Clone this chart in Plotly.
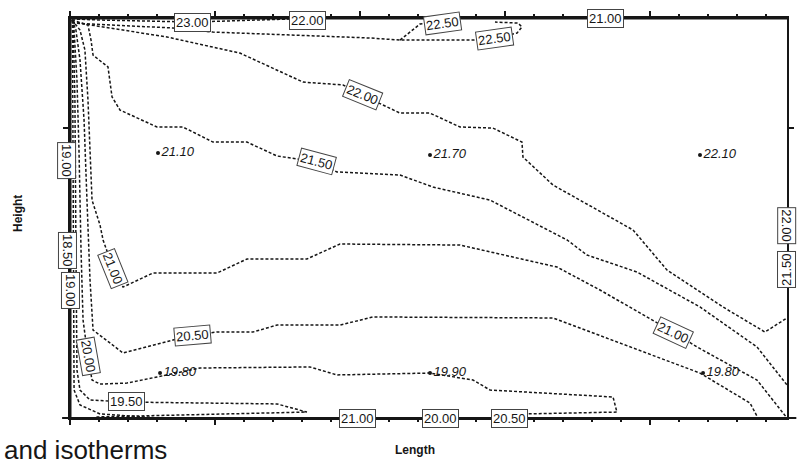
import plotly.graph_objects as go

# ---------------- data (length / height units) ----------------
c2300_x = [0.014, 0.207, 0.848, 1.517]
c2300_y = [2.752, 2.745, 2.731, 2.752]

c2250a_x = [0.014, 0.414, 0.710, 0.986, 1.586, 2.069, 2.276, 2.779, 2.931, 3.083, 3.117, 3.090, 2.931]
c2250a_y = [2.724, 2.703, 2.690, 2.662, 2.641, 2.621, 2.607, 2.607, 2.621, 2.655, 2.697, 2.724, 2.731]
c2250b_x = [2.276, 2.414, 2.566]
c2250b_y = [2.607, 2.717, 2.731]

c2200_x = [0.014, 0.276, 0.669, 1.172, 1.607, 1.883, 2.014, 2.276, 2.483, 2.690, 2.917, 3.117,
           3.124, 3.331, 3.538, 3.883, 4.117, 4.503, 4.793, 4.945]
c2200_y = [2.731, 2.690, 2.628, 2.517, 2.317, 2.297, 2.228, 2.103, 2.103, 2.007, 2.000, 1.903,
           1.800, 1.607, 1.490, 1.297, 1.021, 0.766, 0.593, 0.690]

c2150_x = [0.014, 0.124, 0.145, 0.159, 0.262, 0.290, 0.345, 0.600, 0.779, 0.986, 1.221, 1.428,
           1.703, 1.841, 2.276, 2.503, 2.897, 3.428, 3.566, 3.910, 4.345, 4.738, 4.945]
c2150_y = [2.745, 2.710, 2.607, 2.503, 2.421, 2.214, 2.124, 2.007, 2.007, 1.903, 1.903, 1.807,
           1.766, 1.697, 1.676, 1.593, 1.503, 1.228, 1.124, 1.007, 0.766, 0.490, 0.228]

c2100_x = [0.014, 0.069, 0.103, 0.124, 0.138, 0.152, 0.207, 0.228, 0.297, 0.366, 0.572, 1.014,
           1.221, 1.634, 1.862, 2.690, 3.359, 3.655, 4.159, 4.324, 4.738, 4.945]
c2100_y = [2.745, 2.676, 2.538, 2.193, 1.848, 1.503, 1.331, 1.228, 1.034, 0.903, 1.000, 1.000,
           1.097, 1.097, 1.200, 1.193, 1.041, 0.883, 0.593, 0.490, 0.262, 0.000]

c2050_x = [0.014, 0.041, 0.069, 0.097, 0.117, 0.138, 0.159, 0.366, 0.710, 0.848, 1.014, 1.262,
           1.428, 1.862, 2.090, 3.331, 4.345, 4.690, 4.745]
c2050_y = [2.745, 2.676, 2.469, 2.055, 1.503, 0.952, 0.607, 0.448, 0.538, 0.572, 0.593, 0.593,
           0.641, 0.641, 0.697, 0.690, 0.310, 0.103, 0.000]

c2000_x = [0.014, 0.028, 0.048, 0.062, 0.076, 0.090, 0.124, 0.152, 0.207, 0.393, 0.600, 0.897,
           1.655, 1.841, 2.483, 2.779, 2.897, 3.745, 3.772, 3.138]
c2000_y = [2.745, 2.676, 2.331, 1.848, 1.159, 0.676, 0.421, 0.262, 0.234, 0.241, 0.283, 0.345,
           0.352, 0.297, 0.310, 0.262, 0.193, 0.145, 0.041, 0.028]

c1950_x = [0.021, 0.034, 0.041, 0.048, 0.069, 0.138, 0.393, 1.428, 1.634, 1.124, 0.552, 0.172]
c1950_y = [2.745, 2.193, 1.159, 0.331, 0.193, 0.124, 0.110, 0.097, 0.041, 0.028, 0.014, 0.007]

c1900_x = [0.017, 0.028, 0.069, 0.207, 0.621]
c1900_y = [2.745, 0.193, 0.090, 0.028, 0.000]

# measured points
pt_x = [0.607, 2.483, 4.345, 0.621, 2.483, 4.366]
pt_y = [1.828, 1.814, 1.814, 0.310, 0.310, 0.310]
pt_txt = ["21.10", "21.70", "22.10", "19.80", "19.90", "19.80"]

# contour labels: text, x, y, angle
lab_txt = ["23.00", "22.00", "21.50", "22.50", "22.50", "21.00",
           "22.00", "21.50", "21.00", "21.00", "20.50", "20.00", "19.50",
           "19.00", "18.50", "19.00", "22.00", "21.50",
           "21.00", "20.00", "20.50"]
lab_x = [0.848, 1.641, 2.138, 2.566, 2.931, 3.690,
         2.014, 1.703, 0.297, 4.159, 0.848, 0.124, 0.393,
         0.0, 0.0, 0.0, 4.945, 4.945,
         1.986, 2.552, 3.034]
lab_y = [2.731, 2.745, 2.766, 2.724, 2.621, 2.759,
         2.228, 1.766, 1.034, 0.593, 0.572, 0.421, 0.117,
         1.779, 1.159, 0.883, 1.330, 1.021,
         0.000, 0.000, 0.000]
lab_ang = [0, 0, 0, -8, -8, 0,
           22, 15, 68, 25, -5, 80, 0,
           90, 90, 90, 90, -90,
           0, 0, 0]
lab_dx = [0, 0, 0, 0, 0, 0,
          0, 0, 0, 0, 0, 0, 0,
          -3, -3, 0, 0, 0,
          0, 0, 0]

# ---------------- figure ----------------
fig = go.Figure()
ink = "#161616"
line_style = dict(color=ink, width=1.5, dash="3px,2px")
lines = [(c2300_x, c2300_y), (c2250a_x, c2250a_y), (c2250b_x, c2250b_y),
         (c2200_x, c2200_y), (c2150_x, c2150_y), (c2100_x, c2100_y),
         (c2050_x, c2050_y), (c2000_x, c2000_y), (c1950_x, c1950_y),
         (c1900_x, c1900_y)]
for lx, ly in lines:
    fig.add_trace(go.Scatter(x=lx, y=ly, mode="lines", line=line_style,
                             hoverinfo="skip", showlegend=False, cliponaxis=False))

fig.add_trace(go.Scatter(x=pt_x, y=pt_y, mode="markers+text", text=pt_txt,
                         textposition="middle right",
                         textfont=dict(family="Liberation Sans, Arial", size=13,
                                       color=ink, style="italic"),
                         marker=dict(color=ink, size=4),
                         hoverinfo="skip", showlegend=False, cliponaxis=False))

for t, ax_, ay_, ang, dx in zip(lab_txt, lab_x, lab_y, lab_ang, lab_dx):
    fig.add_annotation(x=ax_, y=ay_, xref="x", yref="y", text=t, showarrow=False,
                       textangle=ang, xshift=dx,
                       font=dict(family="Liberation Sans, Arial", size=13, color=ink),
                       bgcolor="white", bordercolor="#444", borderwidth=1, borderpad=1)

# axis titles / caption
fig.add_annotation(x=(415 - 70) / 717, y=(418 - 450) / 400, xref="paper", yref="paper",
                   xanchor="center", yanchor="middle",
                   text="<b>Length</b>", showarrow=False,
                   font=dict(family="Liberation Sans, Arial", size=12, color=ink))
fig.add_annotation(x=(18 - 70) / 717, y=(418 - 214) / 400, xref="paper", yref="paper",
                   xanchor="center", yanchor="middle",
                   text="<b>Height</b>", showarrow=False, textangle=-90,
                   font=dict(family="Liberation Sans, Arial", size=12, color=ink))
fig.add_annotation(x=(2 - 70) / 717, y=(418 - 450) / 400, xref="paper", yref="paper",
                   xanchor="left", yanchor="middle", text="and isotherms", showarrow=False,
                   font=dict(family="Liberation Sans, Arial", size=26, color=ink))

axis_common = dict(showgrid=False, zeroline=False, showticklabels=False,
                   ticks="outside", ticklen=5, tickwidth=2, tickcolor=ink,
                   showline=True, linecolor=ink, linewidth=2, mirror="ticks")
fig.update_xaxes(range=[0, 4.945], dtick=1, tick0=0,
                 minor=dict(ticks="outside", ticklen=2, dtick=0.2, tickcolor=ink),
                 **axis_common)
fig.update_yaxes(range=[0, 2.759], tickvals=[0, 2], **axis_common)

# thicker top and left frame edges, bottom line overhang
fig.add_shape(type="line", xref="x domain", yref="y domain", x0=0, x1=1, y0=1, y1=1,
              line=dict(color=ink, width=3))
fig.add_shape(type="line", xref="x domain", yref="y domain", x0=0, x1=0, y0=0, y1=1,
              line=dict(color=ink, width=3))
fig.add_shape(type="line", xref="x domain", yref="y domain", x0=-0.011, x1=1.013, y0=0, y1=0,
              line=dict(color=ink, width=2))

fig.update_layout(width=805, height=471, margin=dict(l=70, r=18, t=18, b=53),
                  paper_bgcolor="white", plot_bgcolor="white")

fig.write_html("out.html", config={"displayModeBar": False},
               post_script="document.body.style.margin='0px';")
